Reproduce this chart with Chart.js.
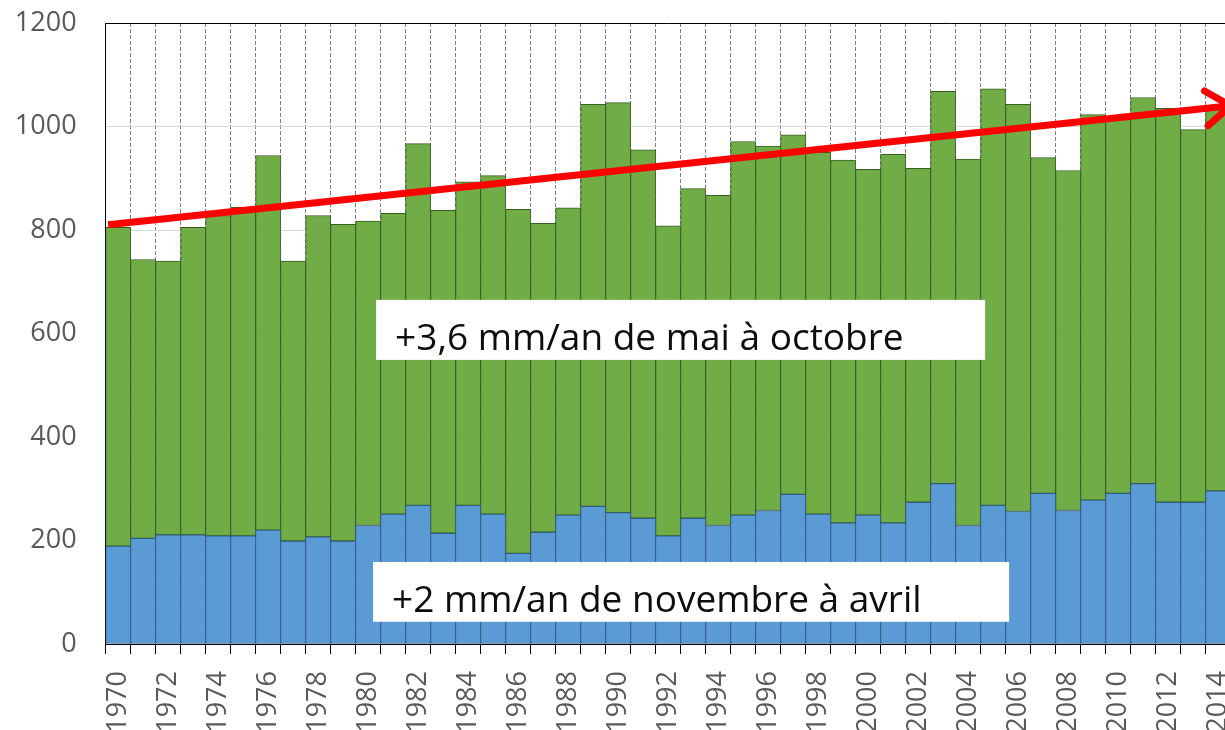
<!DOCTYPE html>
<html>
<head>
<meta charset="utf-8">
<script src="https://cdn.jsdelivr.net/npm/chart.js@4"></script>
<style>
html, body { margin: 0; padding: 0; background: #fff; overflow: hidden; }
#wrap { width: 1225px; height: 730px; overflow: hidden; position: relative; }
#rain_chart { position: absolute; left: 0; top: 0; }
</style>
</head>
<body>
<div id="wrap"><canvas id="rain_chart" width="1250" height="730"></canvas></div>
<script>
// annual rainfall, split by half-year (mm)
var years = ["1970", "1971", "1972", "1973", "1974", "1975", "1976", "1977", "1978", "1979",
    "1980", "1981", "1982", "1983", "1984", "1985", "1986", "1987", "1988", "1989",
    "1990", "1991", "1992", "1993", "1994", "1995", "1996", "1997", "1998", "1999",
    "2000", "2001", "2002", "2003", "2004", "2005", "2006", "2007", "2008", "2009",
    "2010", "2011", "2012", "2013", "2014"]

// novembre -> avril
var winter = [189, 204, 211, 211, 209, 209, 220, 199, 207, 199,
    229, 251, 268, 214, 268, 251, 175, 216, 249, 266,
    254, 243, 209, 243, 229, 249, 258, 289, 251, 234,
    249, 234, 274, 310, 229, 268, 256, 291, 258, 278,
    291, 310, 274, 274, 296]

// mai -> octobre
var summer = [616, 539, 529, 594, 619, 635, 724, 541, 621, 612,
    588, 581, 699, 624, 625, 654, 665, 597, 594, 777,
    792, 712, 599, 637, 638, 722, 704, 695, 699, 701,
    668, 712, 645, 758, 708, 805, 787, 649, 657, 745,
    724, 746, 761, 720, 739]

// red trend arrow (start / end, in category units and mm)
var trendX = [-0.4, 44.5]
var trendY = [810, 1040]

var yTicks = { min: 0, max: 1200, step: 200 }

var notes = [
    { text: "+3,6 mm/an de mai à octobre", x0: 10.32, x1: 34.68, yTop: 665, yBottom: 549 },
    { text: "+2 mm/an de novembre à avril", x0: 10.2, x1: 35.64, yTop: 158.5, yBottom: 43 }
]

var tickFont = { family: "Open Sans", size: 27 }

var notesPlugin = {
    id: "notes",
    afterDatasetsDraw: function (chart) {
        var ctx = chart.ctx
        var xs = chart.scales.x, ys = chart.scales.y
        ctx.save()
        notes.forEach(function (n) {
            var l = xs.getPixelForValue(n.x0), r = xs.getPixelForValue(n.x1)
            var t = ys.getPixelForValue(n.yTop), b = ys.getPixelForValue(n.yBottom)
            ctx.fillStyle = "#ffffff"
            ctx.fillRect(l, t, r - l, b - t)
            ctx.fillStyle = "#0d0d0d"
            ctx.font = "37px 'Open Sans'"
            ctx.textBaseline = "alphabetic"
            ctx.textAlign = "left"
            ctx.fillText(n.text, l + 19, b - 10)
        })
        ctx.restore()
    }
}

var arrowPlugin = {
    id: "trendArrow",
    afterDatasetsDraw: function (chart) {
        var pts = chart.getDatasetMeta(2).data
        var a = pts[pts.length - 2], b = pts[pts.length - 1]
        var ang = Math.atan2(b.y - a.y, b.x - a.x)
        var len = 30, spread = 0.62
        var ctx = chart.ctx
        ctx.save()
        ctx.strokeStyle = "#ff0000"
        ctx.lineWidth = 7
        ctx.lineCap = "round"
        ctx.lineJoin = "round"
        ctx.beginPath()
        ctx.moveTo(b.x - len * Math.cos(ang - spread), b.y - len * Math.sin(ang - spread))
        ctx.lineTo(b.x, b.y)
        ctx.lineTo(b.x - len * Math.cos(ang + spread), b.y - len * Math.sin(ang + spread))
        ctx.stroke()
        ctx.restore()
    }
}

var rainCanvas = document.getElementById("rain_chart")
var config = {
    type: "bar",
    data: {
        labels: years,
        datasets: [{
            label: "novembre à avril",
            data: winter,
            backgroundColor: "#5b9bd5",
            borderColor: "#2e5c8a",
            borderWidth: 1,
            borderSkipped: false,
            categoryPercentage: 1,
            barPercentage: 1,
            order: 1
        },
        {
            label: "mai à octobre",
            data: summer,
            backgroundColor: "#70ad47",
            borderColor: "#375f22",
            borderWidth: 1,
            borderSkipped: false,
            categoryPercentage: 1,
            barPercentage: 1,
            order: 1
        },
        {
            type: "line",
            label: "tendance",
            parsing: false,
            data: trendX.map(function (x, i) { return { x: x, y: trendY[i] } }),
            borderColor: "#ff0000",
            borderWidth: 7,
            pointRadius: 0,
            fill: false,
            stack: "trend",
            clip: false,
            order: 0
        }
        ]
    },
    options: {
        responsive: false,
        animation: false,
        events: [],
        layout: { padding: { top: 23, left: 17, right: 19.4, bottom: 0 } },
        plugins: { legend: { display: false }, tooltip: { enabled: false } },
        scales: {
            x: {
                stacked: true,
                afterFit: function (scale) {
                    scale.height = 86
                    scale.paddingLeft = 0
                    scale.paddingRight = 0
                },
                grid: { offset: true, color: "#7f7f7f", lineWidth: 1, tickLength: 10, tickColor: "#000", tickWidth: 1, tickBorderDash: [] },
                border: { color: "#000", width: 1, dash: [4, 2] },
                ticks: {
                    autoSkip: false, minRotation: 90, maxRotation: 90, padding: 17,
                    color: "#595959", font: tickFont,
                    callback: function (v, i) { return i % 2 === 0 ? years[i] : "" }
                }
            },
            y: {
                stacked: true,
                min: yTicks.min,
                max: yTicks.max,
                afterFit: function (scale) {
                    scale.width = 88.6
                    scale.paddingTop = 0
                    scale.paddingBottom = 0
                },
                grid: {
                    drawTicks: false,
                    color: function (c) { return c.tick && c.tick.value === yTicks.max ? "#000" : "#d9d9d9" }
                },
                border: { color: "#000", width: 1 },
                ticks: {
                    stepSize: yTicks.step, padding: 29, color: "#595959", font: tickFont,
                    callback: function (v) { return String(v) }
                }
            }
        }
    },
    plugins: [notesPlugin, arrowPlugin]
}

var rain_chart = new Chart(rainCanvas, config)
</script>
</body>
</html>
